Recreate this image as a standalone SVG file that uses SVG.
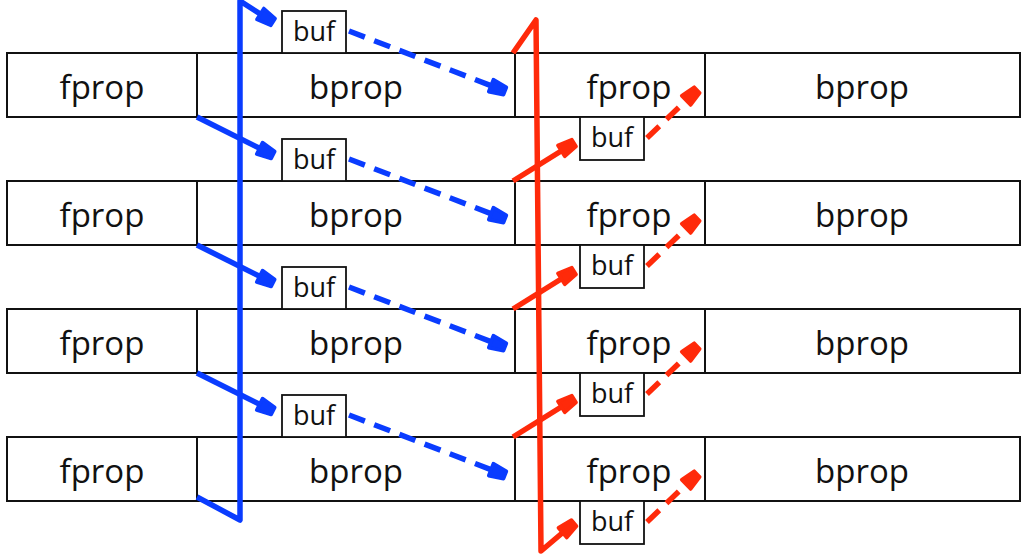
<svg xmlns="http://www.w3.org/2000/svg" width="1026" height="555" viewBox="0 0 1026 555">
  <style>
    .cell { fill: #ffffff; stroke: #111111; stroke-width: 2; }
    .buf { fill: #ffffff; stroke: #111111; stroke-width: 1.8; }
    .lbl { font-family: "Open Sans", "Liberation Sans", Arial, sans-serif; font-size: 33px; fill: #111111; text-anchor: middle; }
    .blbl { font-family: "Open Sans", "Liberation Sans", Arial, sans-serif; font-size: 27px; fill: #111111; text-anchor: middle; }
    .blue { fill: none; stroke: #0a3cff; stroke-width: 5.5; stroke-linejoin: round; }
    .red { fill: none; stroke: #ff2a0a; stroke-width: 5.5; stroke-linejoin: round; }
    .dash { stroke-dasharray: 17 10; }
  </style>
  <defs>
    <marker id="headBlue" markerUnits="userSpaceOnUse" markerWidth="26" markerHeight="26" viewBox="-20 -13 26 26" refX="0" refY="0" orient="auto">
      <path d="M -15 -6.5 L 0 -4 L 0 4 L -15 6.5 Z" fill="#0a3cff" stroke="#0a3cff" stroke-width="3.5" stroke-linejoin="round"/>
    </marker>
    <marker id="headRed" markerUnits="userSpaceOnUse" markerWidth="26" markerHeight="26" viewBox="-20 -13 26 26" refX="0" refY="0" orient="auto">
      <path d="M -15 -6.5 L 0 -4 L 0 4 L -15 6.5 Z" fill="#ff2a0a" stroke="#ff2a0a" stroke-width="3.5" stroke-linejoin="round"/>
    </marker>
  </defs>
  <rect width="1026" height="555" fill="#ffffff"/>

  <!-- pipeline rows: fprop | bprop | fprop | bprop -->
  <g id="row1">
    <rect class="cell" x="7" y="53" width="1013" height="64"/>
    <line class="cell" x1="197" y1="53" x2="197" y2="117"/>
    <line class="cell" x1="515" y1="53" x2="515" y2="117"/>
    <line class="cell" x1="705" y1="53" x2="705" y2="117"/>
    <text class="lbl" x="102" y="99">fprop</text>
    <text class="lbl" x="356" y="99">bprop</text>
    <text class="lbl" x="629" y="99">fprop</text>
    <text class="lbl" x="862" y="99">bprop</text>
  </g>
  <g id="row2">
    <rect class="cell" x="7" y="181" width="1013" height="64"/>
    <line class="cell" x1="197" y1="181" x2="197" y2="245"/>
    <line class="cell" x1="515" y1="181" x2="515" y2="245"/>
    <line class="cell" x1="705" y1="181" x2="705" y2="245"/>
    <text class="lbl" x="102" y="227">fprop</text>
    <text class="lbl" x="356" y="227">bprop</text>
    <text class="lbl" x="629" y="227">fprop</text>
    <text class="lbl" x="862" y="227">bprop</text>
  </g>
  <g id="row3">
    <rect class="cell" x="7" y="309" width="1013" height="64"/>
    <line class="cell" x1="197" y1="309" x2="197" y2="373"/>
    <line class="cell" x1="515" y1="309" x2="515" y2="373"/>
    <line class="cell" x1="705" y1="309" x2="705" y2="373"/>
    <text class="lbl" x="102" y="355">fprop</text>
    <text class="lbl" x="356" y="355">bprop</text>
    <text class="lbl" x="629" y="355">fprop</text>
    <text class="lbl" x="862" y="355">bprop</text>
  </g>
  <g id="row4">
    <rect class="cell" x="7" y="437" width="1013" height="64"/>
    <line class="cell" x1="197" y1="437" x2="197" y2="501"/>
    <line class="cell" x1="515" y1="437" x2="515" y2="501"/>
    <line class="cell" x1="705" y1="437" x2="705" y2="501"/>
    <text class="lbl" x="102" y="483">fprop</text>
    <text class="lbl" x="356" y="483">bprop</text>
    <text class="lbl" x="629" y="483">fprop</text>
    <text class="lbl" x="862" y="483">bprop</text>
  </g>

  <!-- buffers above each row (blue path) -->
  <g id="bufA1"><rect class="buf" x="282" y="11" width="64" height="42"/><text class="blbl" x="314" y="41">buf</text></g>
  <g id="bufA2"><rect class="buf" x="282" y="139" width="64" height="42"/><text class="blbl" x="314" y="169">buf</text></g>
  <g id="bufA3"><rect class="buf" x="282" y="267" width="64" height="42"/><text class="blbl" x="314" y="297">buf</text></g>
  <g id="bufA4"><rect class="buf" x="282" y="395" width="64" height="42"/><text class="blbl" x="314" y="425">buf</text></g>

  <!-- buffers below each row (red path) -->
  <g id="bufB1"><rect class="buf" x="580" y="117" width="64" height="43"/><text class="blbl" x="612" y="147">buf</text></g>
  <g id="bufB2"><rect class="buf" x="580" y="245" width="64" height="43"/><text class="blbl" x="612" y="275">buf</text></g>
  <g id="bufB3"><rect class="buf" x="580" y="373" width="64" height="43"/><text class="blbl" x="612" y="403">buf</text></g>
  <g id="bufB4"><rect class="buf" x="580" y="501" width="64" height="43"/><text class="blbl" x="612" y="531">buf</text></g>

  <g id="connectors">
    <!-- blue: wrap-around line from last row back to the top -->
    <polyline class="blue" points="197,497 240,520 240,1 273,22" marker-end="url(#headBlue)"/>
    <line class="blue" x1="197" y1="117" x2="273" y2="155" marker-end="url(#headBlue)"/>
    <line class="blue" x1="197" y1="245" x2="273" y2="283" marker-end="url(#headBlue)"/>
    <line class="blue" x1="197" y1="373" x2="273" y2="411" marker-end="url(#headBlue)"/>
    <line class="blue dash" x1="349" y1="31" x2="505" y2="91" marker-end="url(#headBlue)"/>
    <line class="blue dash" x1="349" y1="159" x2="505" y2="219" marker-end="url(#headBlue)"/>
    <line class="blue dash" x1="349" y1="287" x2="505" y2="347" marker-end="url(#headBlue)"/>
    <line class="blue dash" x1="349" y1="415" x2="505" y2="475" marker-end="url(#headBlue)"/>

    <!-- red: wrap-around line from the top down to the last buffer -->
    <polyline class="red" points="513,53 536,20 541,551 574,523" marker-end="url(#headRed)"/>
    <line class="red" x1="513" y1="181" x2="574" y2="143" marker-end="url(#headRed)"/>
    <line class="red" x1="513" y1="309" x2="574" y2="271" marker-end="url(#headRed)"/>
    <line class="red" x1="513" y1="437" x2="574" y2="399" marker-end="url(#headRed)"/>
    <line class="red dash" x1="647" y1="138" x2="697" y2="90" marker-end="url(#headRed)"/>
    <line class="red dash" x1="647" y1="266" x2="697" y2="218" marker-end="url(#headRed)"/>
    <line class="red dash" x1="647" y1="394" x2="697" y2="346" marker-end="url(#headRed)"/>
    <line class="red dash" x1="647" y1="522" x2="697" y2="474" marker-end="url(#headRed)"/>
  </g>
</svg>
